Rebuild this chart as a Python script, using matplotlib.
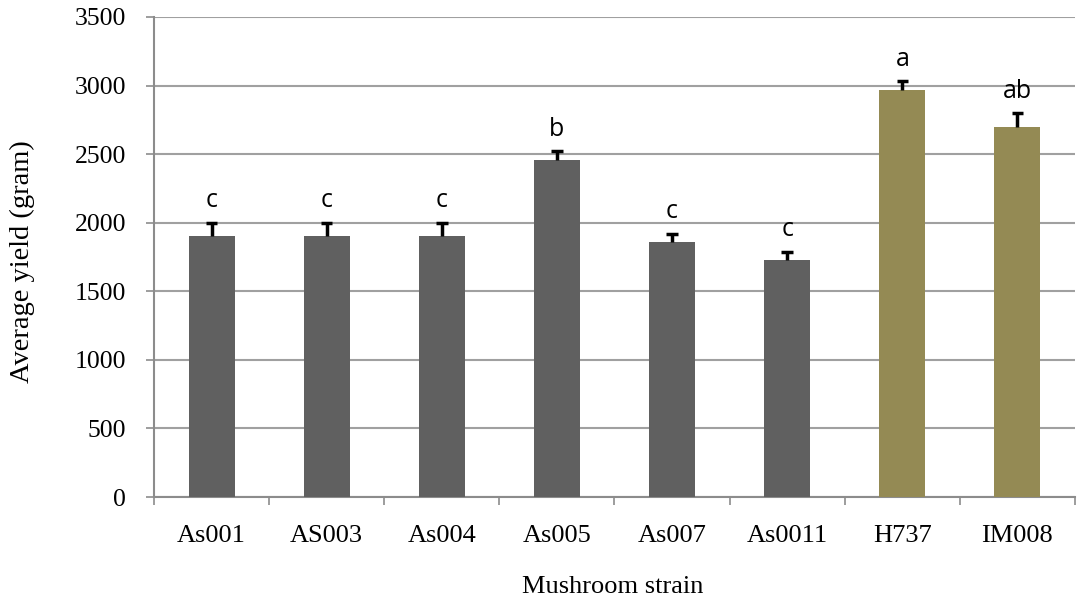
import numpy as np
import matplotlib
matplotlib.use('Agg')
import matplotlib.pyplot as plt

strains = ['As001', 'AS003', 'As004', 'As005', 'As007', 'As0011', 'H737', 'IM008']
yield_mean = [1900, 1900, 1900, 2460, 1860, 1730, 2970, 2700]
yield_err = [100, 100, 100, 60, 60, 60, 60, 100]
letters = ['c', 'c', 'c', 'b', 'c', 'c', 'a', 'ab']
colors = ['#606060'] * 6 + ['#948A54'] * 2

fig = plt.figure(figsize=(10.79, 6.02), dpi=100)
ax = fig.add_axes([0.1427, 0.1744, 0.8536, 0.7974])

x = np.arange(len(strains))
top = np.array(yield_mean) + np.array(yield_err)
ax.bar(x, yield_mean, width=0.4, color=colors, zorder=3)
# only the upper half of the error bar is visible
ax.vlines(x, yield_mean, top, color='black', linewidth=2.5, zorder=4)
ax.hlines(top, x - 0.05, x + 0.05, color='black', linewidth=2.5, zorder=4)

for xi, t, s in zip(x, top, letters):
    ax.annotate(s, (xi, t), xytext=(0, 11), textcoords='offset points',
                ha='center', va='baseline', fontsize=18, family='Open Sans')

ax.set_ylim(0, 3500)
ax.set_yticks(np.arange(0, 3501, 500))
ax.set_xlim(-0.5, len(strains) - 0.5)
ax.set_xticks(x)
ax.set_xticklabels(strains)
ax.set_xticks(np.arange(-0.5, len(strains), 1), minor=True)
ax.tick_params(axis='x', which='major', length=0, pad=20)
ax.tick_params(axis='x', which='minor', length=6, width=1.2, color='#8c8c8c')
ax.tick_params(axis='y', length=6, width=1.2, color='#8c8c8c', pad=14)
for lab in ax.get_xticklabels():
    lab.set_family('Liberation Serif')
    lab.set_fontsize(19)
for lab in ax.get_yticklabels():
    lab.set_family('Liberation Serif')
    lab.set_fontsize(18.5)

ax.yaxis.grid(True, color='#a0a0a0', linewidth=1.5, zorder=0)
ax.set_axisbelow(True)
for side in ['top', 'right']:
    ax.spines[side].set_visible(False)
for side in ['left', 'bottom']:
    ax.spines[side].set_color('#8c8c8c')
    ax.spines[side].set_linewidth(1.5)

fig.text(0.021, 0.565, 'Average yield (gram)', rotation=90, ha='center', va='center',
         family='Liberation Serif', fontsize=20.5)
fig.text(0.568, 0.025, 'Mushroom strain', ha='center', va='center',
         family='Liberation Serif', fontsize=19)

fig.savefig('out.png', dpi=100)
